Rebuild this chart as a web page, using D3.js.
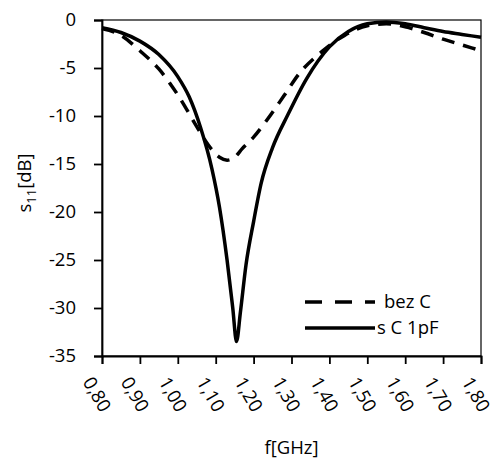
<!DOCTYPE html>
<html>
<head>
<meta charset="utf-8">
<script src="https://cdn.jsdelivr.net/npm/d3@7"></script>
<style>
  body { margin: 0; background: #fff; }
  text { font-family: "Open Sans", "Liberation Sans", sans-serif; fill: #000; }
</style>
</head>
<body>
<svg id="chart"></svg>
<script>
// series
var freqSolid = [0.80, 0.85, 0.90, 0.95, 1.00, 1.03, 1.06, 1.09, 1.11, 1.13, 1.145, 1.155, 1.165, 1.18, 1.20, 1.22, 1.25, 1.29, 1.34, 1.40, 1.45, 1.50, 1.55, 1.60, 1.65, 1.70, 1.75, 1.80];
var valSolid = [-0.8, -1.3, -2.2, -3.6, -5.9, -8.0, -11.2, -15.5, -19.5, -25.0, -30.0, -33.5, -30.5, -25.5, -21.0, -17.0, -13.3, -9.9, -6.1, -2.8, -1.2, -0.4, -0.2, -0.4, -0.8, -1.2, -1.5, -1.8];

var freqDashed = [0.80, 0.85, 0.90, 0.95, 1.00, 1.05, 1.08, 1.11, 1.13, 1.15, 1.17, 1.20, 1.23, 1.28, 1.32, 1.38, 1.44, 1.50, 1.55, 1.60, 1.65, 1.70, 1.75, 1.80];
var valDashed = [-0.9, -1.6, -3.2, -5.1, -7.8, -11.1, -13.0, -14.3, -14.6, -14.3, -13.4, -12.2, -10.7, -7.9, -5.6, -3.3, -1.6, -0.6, -0.4, -0.7, -1.3, -2.0, -2.6, -3.2];

var xTicks = [0.80, 0.90, 1.00, 1.10, 1.20, 1.30, 1.40, 1.50, 1.60, 1.70, 1.80];
var yTicks = [0, -5, -10, -15, -20, -25, -30, -35];
var seriesNames = ["bez C", "s C 1pF"];

var margin = {top: 20, right: 22, bottom: 105, left: 102},
    width = 503 - margin.left - margin.right,
    height = 461 - margin.top - margin.bottom;

var svg = d3.select("#chart")
    .attr("width", 503)
    .attr("height", 461);

var g = svg.append("g")
    .attr("transform", "translate(" + margin.left + "," + margin.top + ")");

var x = d3.scaleLinear().domain([0.8, 1.8]).range([0, width]);
var y = d3.scaleLinear().domain([-35, 0]).range([height, 0]);

// plot frame
g.append("rect")
    .attr("width", width)
    .attr("height", height)
    .attr("fill", "none")
    .attr("stroke", "#000")
    .attr("stroke-width", 1.2);

var xAxis = d3.axisBottom(x)
    .tickValues(xTicks)
    .tickSize(8)
    .tickFormat(function(d) { return d3.format(".2f")(d).replace(".", ","); });

var yAxis = d3.axisLeft(y)
    .tickValues(yTicks)
    .tickSize(8)
    .tickFormat(function(d) { return d === 0 ? "0" : String(d); });

var gx = g.append("g")
    .attr("transform", "translate(0," + height + ")")
    .call(xAxis);
gx.selectAll("text")
    .style("font-size", "18.5px")
    .attr("text-anchor", "start")
    .attr("dy", "0.35em")
    .attr("transform", "translate(-5,17) rotate(60)");

var gy = g.append("g").call(yAxis);
gy.selectAll("text")
    .style("font-size", "18.5px")
    .attr("x", -26);

g.selectAll(".domain, .tick line")
    .attr("stroke", "#000")
    .attr("stroke-width", 1.8);

var line = d3.line()
    .x(function(d) { return x(d[0]); })
    .y(function(d) { return y(d[1]); })
    .curve(d3.curveMonotoneX);

var dashedData = freqDashed.map(function(f, i) { return [f, valDashed[i]]; });
var solidData = freqSolid.map(function(f, i) { return [f, valSolid[i]]; });

g.append("path")
    .datum(dashedData)
    .attr("d", line)
    .attr("fill", "none")
    .attr("stroke", "#000")
    .attr("stroke-width", 3.5)
    .attr("stroke-dasharray", "13,9");

g.append("path")
    .datum(solidData)
    .attr("d", line)
    .attr("fill", "none")
    .attr("stroke", "#000")
    .attr("stroke-width", 3.5);

// legend
var legend = g.append("g").attr("transform", "translate(203,282)");
seriesNames.forEach(function(name, i) {
  var row = legend.append("g").attr("transform", "translate(0," + (i * 26) + ")");
  row.append("line")
      .attr("x1", 0).attr("x2", 70)
      .attr("stroke", "#000")
      .attr("stroke-width", 3.5)
      .attr("stroke-dasharray", i === 0 ? "17,13" : null);
  row.append("text")
      .attr("x", i === 0 ? 79 : 72)
      .attr("dy", "0.35em")
      .style("font-size", "18.5px")
      .text(name);
});

// axis titles
svg.append("text")
    .attr("x", margin.left + width / 2)
    .attr("y", 454)
    .attr("text-anchor", "middle")
    .style("font-size", "18.5px")
    .text("f[GHz]");

var yt = svg.append("text")
    .attr("transform", "translate(31,183) rotate(-90)")
    .attr("text-anchor", "middle")
    .style("font-size", "18.5px");
yt.append("tspan").text("s");
yt.append("tspan").attr("dy", 5).style("font-size", "13px").text("11");
yt.append("tspan").attr("dy", -5).text("[dB]");
</script>
</body>
</html>
